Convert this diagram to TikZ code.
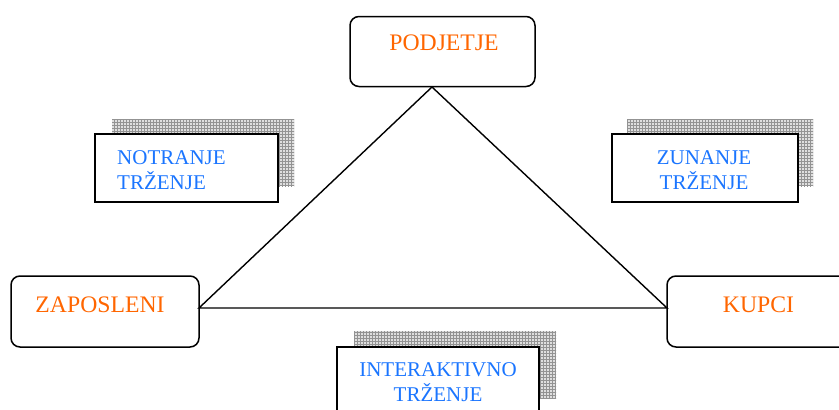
\documentclass[tikz,border=0pt]{standalone}
\usepackage{fontspec}
\setmainfont{Liberation Serif}
\usetikzlibrary{patterns}
\definecolor{org}{RGB}{255,102,0}
\definecolor{blu}{RGB}{26,117,255}
\begin{document}
\begin{tikzpicture}[x=1pt,y=-1pt,
  rbox/.style={draw, line width=1.5pt, rounded corners=9pt, fill=white, inner sep=0pt},
  sbox/.style={draw, line width=1.8pt, fill=white},
  shadowbox/.style={fill=gray!25, postaction={pattern=grid, pattern color=gray!85}},
  otext/.style={text=org, font=\fontsize{23.7}{28}\selectfont, inner sep=0pt},
  btext/.style={text=blu, font=\fontsize{21}{24.5}\selectfont, inner sep=0pt},
  tri/.style={line width=1.4pt, line join=miter}
]
\useasboundingbox (0,0) rectangle (839,410);

% shadows
\fill[shadowbox] (112,119) rectangle (294,186);
\fill[shadowbox] (627,119) rectangle (813,186);
\fill[shadowbox] (354,331) rectangle (556,398);

% square boxes
\draw[sbox] (95,134) rectangle (278,202);
\draw[sbox] (612,134) rectangle (798,202);
\draw[sbox] (337,347) rectangle (539,425);

% rounded boxes
\node[rbox, minimum width=185pt, minimum height=70pt] (pod) at (442.5,51.5) {};
\node[rbox, minimum width=188pt, minimum height=71pt] (zap) at (105,311.5) {};
\node[rbox, minimum width=190pt, minimum height=71pt] (kup) at (762,311.5) {};

% triangle
\coordinate (apex) at (432,87);
\coordinate (lv) at (199,308);
\coordinate (rv) at (667,308);
\draw[tri] (lv) -- (apex) -- (rv) -- cycle;

% texts
\node[otext] (podt) at (444,43) {PODJETJE};
\node[otext] (zapt) at (100,305) {ZAPOSLENI};
\node[otext] (kupt) at (758.5,305) {KUPCI};
\node[btext, align=left, anchor=west] (notr) at (117,170) {NOTRANJE\\TRŽENJE};
\node[btext, align=center] (zun) at (704,170) {ZUNANJE\\TRŽENJE};
\node[btext, align=center] (int) at (438,382) {INTERAKTIVNO\\TRŽENJE};
\end{tikzpicture}
\end{document}
